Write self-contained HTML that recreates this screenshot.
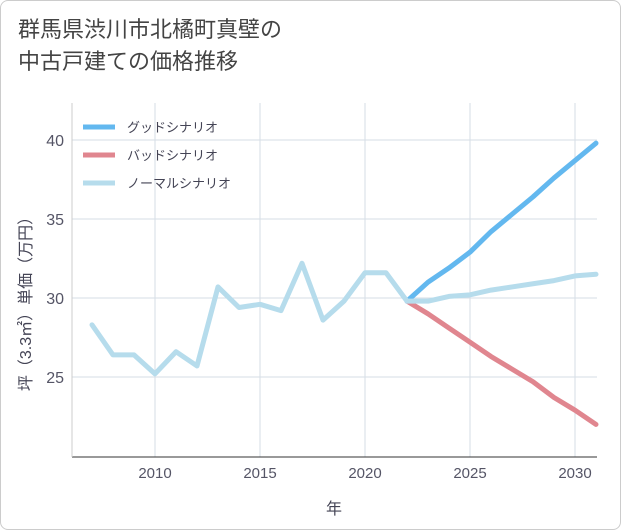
<!DOCTYPE html>
<html><head><meta charset="utf-8"><style>
body{margin:0;background:#fff;}
#wrap{position:relative;width:621px;height:530px;background:#fff;font-family:"Liberation Sans","Noto Sans CJK JP",sans-serif;}
#card{position:absolute;left:0;top:0;width:619px;height:528px;border:1px solid #ccc;border-radius:8px;}
#title{position:absolute;left:18px;top:14px;font-size:22px;line-height:32px;color:#444;}
svg{position:absolute;left:0;top:0;}
</style></head><body>
<div id="wrap">
<div id="card"></div>
<div id="title">群馬県渋川市北橘町真壁の<br>中古戸建ての価格推移</div>
<svg id="chart" width="621" height="530"></svg>
</div>
<script>
const years=[2007,2008,2009,2010,2011,2012,2013,2014,2015,2016,2017,2018,2019,2020,2021,2022,2023,2024,2025,2026,2027,2028,2029,2030,2031];
const normal=[28.3,26.4,26.4,25.2,26.6,25.7,30.7,29.4,29.6,29.2,32.2,28.6,29.8,31.6,31.6,29.8,29.8,30.1,30.2,30.5,30.7,30.9,31.1,31.4,31.5];
const futYears=[2022,2023,2024,2025,2026,2027,2028,2029,2030,2031];
const good=[29.8,31.0,31.9,32.9,34.2,35.3,36.4,37.6,38.7,39.8];
const bad=[29.8,29.0,28.1,27.2,26.3,25.5,24.7,23.7,22.9,22.0];
const xTicks=[2010,2015,2020,2025,2030];
const yTicks=[25,30,35,40];
const L=72,R=597,T=103,B=457;
const x=v=>155+(v-2010)*21;
const y=v=>298-(v-30)*15.8;
const svg=document.getElementById('chart');
const NS='http://www.w3.org/2000/svg';
function mk(t,a,p){const e=document.createElementNS(NS,t);for(const k in a)e.setAttribute(k,a[k]);(p||svg).appendChild(e);return e;}
const bg=mk('rect',{x:L,y:T,width:R-L,height:B-T,fill:'#fff',stroke:'none'});


xTicks.forEach(v=>{
 const g=mk('line',{x1:x(v),x2:x(v),y1:T,y2:B,stroke:'#d5dde6','stroke-width':1});
 
 
 const t=mk('text',{x:x(v),y:B+21,'text-anchor':'middle','font-size':15,fill:'#556'});
 t.textContent=v;
 
 
});
yTicks.forEach(v=>{
 const g=mk('line',{x1:L,x2:R,y1:y(v),y2:y(v),stroke:'#d5dde6','stroke-width':1});
 
 
 const t=mk('text',{x:L-8,y:y(v)+6,'text-anchor':'end','font-size':16,fill:'#556'});
 t.textContent=v;
 
 
});
const ax=mk('line',{x1:L,x2:R,y1:B,y2:B,stroke:'#333','stroke-width':1});


const ay=mk('line',{x1:L,x2:L,y1:T,y2:B,stroke:'#ccc','stroke-width':1});


function line(xs,vs,color,name){
 const p=mk('polyline',{points:xs.map((v,i)=>x(v)+','+y(vs[i])).join(' '),fill:'none',stroke:color,'stroke-width':5,'stroke-linejoin':'round','stroke-linecap':'round'});
 
 
}
line(futYears,bad,'#e0868f','bad-scenario-line');
line(futYears,good,'#63b8ef','good-scenario-line');
line(years,normal,'#b6dcec','normal-scenario-line');
const legend=[['グッドシナリオ','#63b8ef'],['バッドシナリオ','#e0868f'],['ノーマルシナリオ','#b6dcec']];
legend.forEach((d,i)=>{
 const yy=127+i*28;
 const l=mk('line',{x1:83,x2:115,y1:yy,y2:yy,stroke:d[1],'stroke-width':5});
 
 
 const t=mk('text',{x:127,y:yy+5,'font-size':13,fill:'#445'});
 t.textContent=d[0];
 
 
});
const xt=mk('text',{x:334,y:514,'text-anchor':'middle','font-size':16,fill:'#445'});
xt.textContent='年';


const yt=mk('text',{x:0,y:0,'text-anchor':'middle','font-size':16,fill:'#445',transform:'translate(31,300) rotate(-90)'});
yt.textContent='坪（3.3㎡）単価（万円）';


</script>
</body></html>
